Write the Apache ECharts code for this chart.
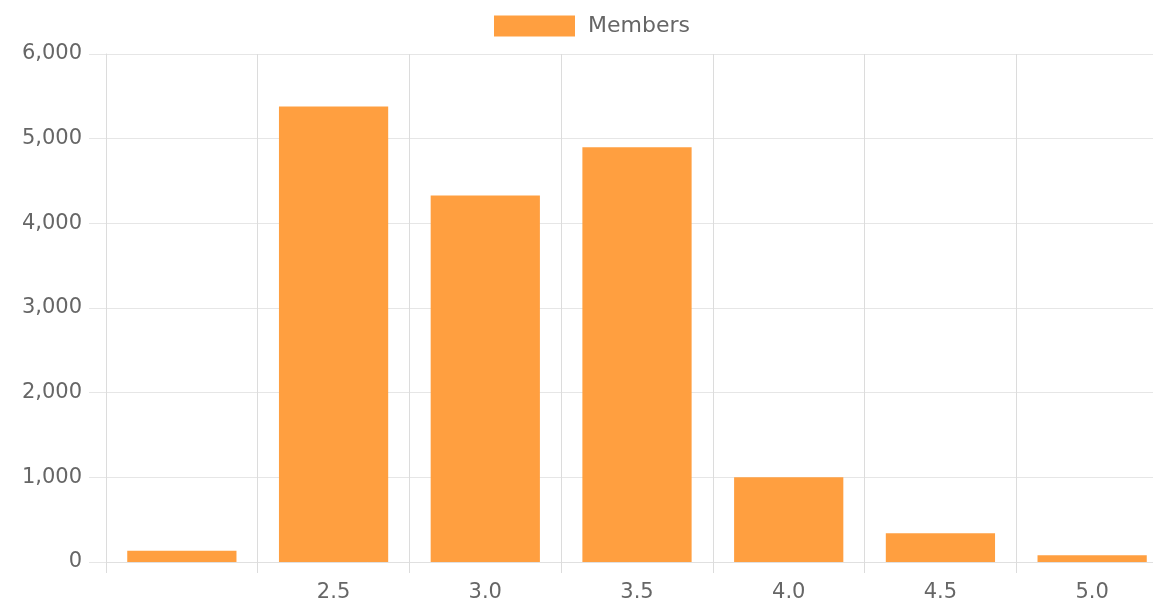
<!DOCTYPE html>
<html>
<head>
<meta charset="utf-8">
<script src="https://cdn.jsdelivr.net/npm/echarts@6/dist/echarts.min.js"></script>
<style>
html,body{margin:0;padding:0;background:#fff;overflow:hidden;}
#chart{width:1153px;height:604px;}
</style>
</head>
<body>
<div id="chart"></div>
<script>
var categories = ['', '2.5', '3.0', '3.5', '4.0', '4.5', '5.0'];
var members = [133, 5380, 4330, 4900, 1000, 340, 80];
var yTicks = { min: 0, max: 6000, interval: 1000 };

var chart = echarts.init(document.getElementById('chart'), null, { renderer: 'canvas' });
var font = 'DejaVu Sans';
chart.setOption({
  animation: false,
  backgroundColor: '#ffffff',
  legend: {
    top: 10,
    left: 489,
    itemWidth: 81,
    itemHeight: 21,
    itemGap: 12,
    icon: 'rect',
    textStyle: { fontFamily: font, fontSize: 22, color: '#666666', padding: [0, 0, 0, 8] },
    data: ['Members']
  },
  grid: { left: 106, width: 1062, top: 54, bottom: 42, containLabel: false, outerBoundsMode: 'none' },
  xAxis: {
    type: 'category',
    data: categories,
    boundaryGap: true,
    axisLine: { show: true, lineStyle: { color: '#e0e0e0', width: 1 } },
    axisTick: { show: true, length: 11, lineStyle: { color: '#dcdcdc' } },
    axisLabel: { interval: 0, margin: 20, fontFamily: font, fontSize: 21, color: '#666666' },
    splitLine: { show: true, interval: 0, lineStyle: { color: '#dcdcdc', width: 1 } }
  },
  yAxis: {
    type: 'value',
    min: yTicks.min,
    max: yTicks.max,
    interval: yTicks.interval,
    axisLine: { show: true, lineStyle: { color: '#dcdcdc', width: 1 } },
    axisTick: { show: true, length: 17, lineStyle: { color: '#e6e6e6' } },
    axisLabel: {
      margin: 24,
      fontFamily: font,
      fontSize: 21,
      color: '#666666',
      formatter: function (v) { return v.toLocaleString('en-US'); }
    },
    splitLine: { show: true, lineStyle: { color: '#e6e6e6', width: 1 } }
  },
  series: [{
    name: 'Members',
    type: 'bar',
    data: members,
    barCategoryGap: '28%',
    itemStyle: { color: '#ff9f40' }
  }]
});
</script>
</body>
</html>
